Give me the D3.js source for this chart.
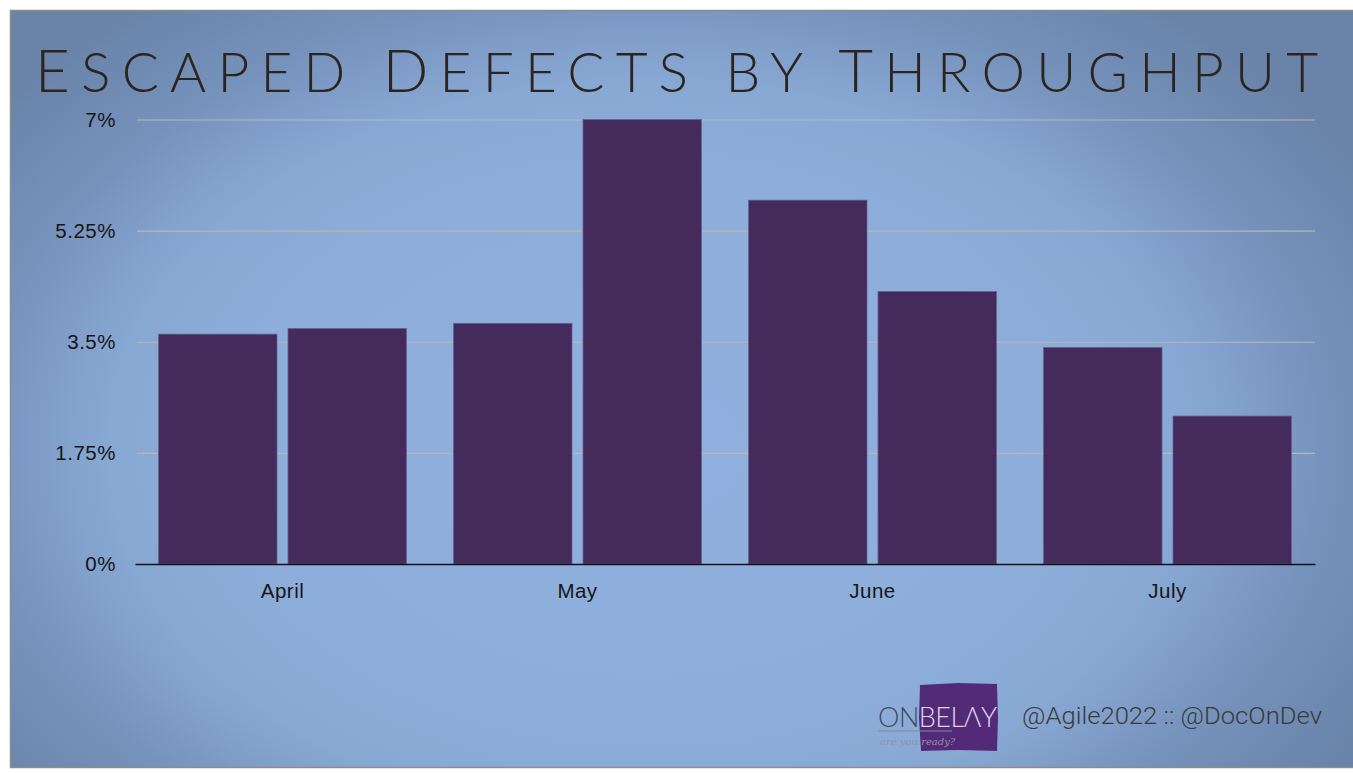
<!DOCTYPE html>
<html>
<head>
<meta charset="utf-8">
<script src="https://cdn.jsdelivr.net/npm/d3@7"></script>
<style>
  html, body { margin: 0; padding: 0; background: #ffffff; }
  svg { display: block; }
</style>
</head>
<body>
<svg id="chart" width="1353" height="773"></svg>
<script>
// Escaped defect rate per month, two releases per month
const months = ["April", "May", "June", "July"];
const firstRelease = [3.62, 3.79, 5.73, 3.41];
const secondRelease = [3.71, 7.0, 4.29, 2.33];
const releases = ["first", "second"];
const yTickValues = [0, 1.75, 3.5, 5.25, 7];
const yTickLabels = ["0%", "1.75%", "3.5%", "5.25%", "7%"];

const titleParts = [
  { text: "E", big: true }, { text: "SCAPED ", big: false },
  { text: "D", big: true }, { text: "EFECTS BY ", big: false },
  { text: "T", big: true }, { text: "HROUGHPUT", big: false }
];
const footerText = "@Agile2022 :: @DocOnDev";

const svg = d3.select("#chart");

// slide background
const defs = svg.append("defs");
const grad = defs.append("radialGradient")
  .attr("id", "slideBg")
  .attr("gradientUnits", "userSpaceOnUse")
  .attr("cx", 0).attr("cy", 0).attr("r", 1)
  .attr("gradientTransform", "translate(650,450) scale(820,560)");
[[0, "#90b1df"], [0.5, "#8dadda"], [0.66, "#88a8d4"], [0.82, "#7693bd"], [1, "#6a84a9"]]
  .forEach(([o, c]) => grad.append("stop").attr("offset", o).attr("stop-color", c));

const rough = defs.append("filter").attr("id", "soft");
rough.append("feGaussianBlur").attr("stdDeviation", 0.7);

svg.append("rect")
  .attr("x", 10).attr("y", 10).attr("width", 1343).attr("height", 758)
  .attr("fill", "url(#slideBg)");
svg.append("path")
  .attr("d", "M1353,10.5 H10.5 V767.5 H1353")
  .attr("fill", "none").attr("stroke", "#8c8c8c").attr("stroke-width", 1.5);

// title
const title = svg.append("text")
  .attr("x", 35).attr("y", 92)
  .attr("textLength", 1283).attr("lengthAdjust", "spacing")
  .attr("font-family", "Lato, 'Open Sans', sans-serif")
  .attr("font-weight", 300)
  .attr("fill", "#2c241f");
title.selectAll("tspan").data(titleParts).join("tspan")
  .attr("font-size", d => d.big ? 60 : 55)
  .text(d => d.text);

// scales
const x0 = d3.scaleBand().domain(months).range([135, 1315])
  .paddingInner(0.16).paddingOuter(0.08);
const x1 = d3.scaleBand().domain(releases).range([0, x0.bandwidth()])
  .paddingInner(0.085).paddingOuter(0);
const y = d3.scaleLinear().domain([0, 7]).range([564, 119.5]);

const labelFont = "Helvetica, 'Liberation Sans', Arial, sans-serif";

// gridlines
svg.append("g")
  .attr("transform", "translate(1315,0)")
  .call(d3.axisLeft(y).tickValues(yTickValues.filter(v => v > 0)).tickSize(1178).tickFormat(""))
  .call(g => g.select(".domain").remove())
  .call(g => g.selectAll("line").attr("stroke", "#b9b8b2").attr("stroke-width", 1.2));

// y tick labels
svg.append("g")
  .attr("transform", "translate(135,0)")
  .call(d3.axisLeft(y).tickValues(yTickValues).tickSize(0).tickPadding(19)
    .tickFormat((d, i) => yTickLabels[i]))
  .call(g => g.select(".domain").remove())
  .call(g => g.selectAll("text")
    .attr("font-family", labelFont)
    .attr("font-size", 20.5).attr("letter-spacing", 0.5).attr("fill", "#161616"));

// bars
const rows = months.map((m, i) => ({ month: m, values: [firstRelease[i], secondRelease[i]] }));
svg.append("g").selectAll("g").data(rows).join("g")
  .attr("transform", d => `translate(${x0(d.month)},0)`)
  .selectAll("rect")
  .data(d => d.values.map((v, j) => ({ key: releases[j], value: v })))
  .join("rect")
  .attr("x", d => x1(d.key))
  .attr("y", d => y(d.value))
  .attr("width", x1.bandwidth())
  .attr("height", d => y(0) - y(d.value))
  .attr("fill", "#452b5c")
  .attr("stroke", "#63608f").attr("stroke-width", 0.8);

// baseline and month labels
svg.append("g")
  .attr("transform", `translate(0,${y(0)})`)
  .call(d3.axisBottom(x0).tickSize(0).tickPadding(19))
  .call(g => g.select(".domain").attr("stroke", "#111").attr("stroke-width", 1.4))
  .call(g => g.selectAll("text")
    .attr("font-family", labelFont)
    .attr("font-size", 20.5).attr("letter-spacing", 0.5).attr("fill", "#161616"));

// logo
const logo = svg.append("g");
logo.append("path")
  .attr("d", "M920,685 L958,683 L997,684 L998,718 L997,751 L958,750 L921,751 L919,718 Z")
  .attr("fill", "#532c78").attr("filter", "url(#soft)");
logo.append("line")
  .attr("x1", 878).attr("x2", 952).attr("y1", 731).attr("y2", 731)
  .attr("stroke", "#7f8a9c").attr("stroke-width", 1);
const logoText = logo.append("text")
  .attr("x", 878).attr("y", 727)
  .attr("textLength", 119).attr("lengthAdjust", "spacing")
  .attr("font-family", "Lato, 'Open Sans', sans-serif")
  .attr("font-weight", 300).attr("font-size", 27);
logoText.append("tspan").attr("fill", "#3e4b5c").text("ON");
logoText.append("tspan").attr("fill", "#ddd5ec").text("BELΛY");
logo.append("text")
  .attr("x", 880).attr("y", 745)
  .attr("font-family", "'DejaVu Serif', serif").attr("font-style", "italic")
  .attr("font-size", 10).attr("fill", "#8f93a8")
  .text("are you ready?");

// footer
svg.append("text")
  .attr("x", 1022).attr("y", 724)
  .attr("textLength", 300).attr("lengthAdjust", "spacingAndGlyphs")
  .attr("font-family", "Roboto, 'Liberation Sans', sans-serif")
  .attr("font-weight", 300).attr("font-size", 24)
  .attr("fill", "#3a3a3a")
  .text(footerText);
</script>
</body>
</html>
